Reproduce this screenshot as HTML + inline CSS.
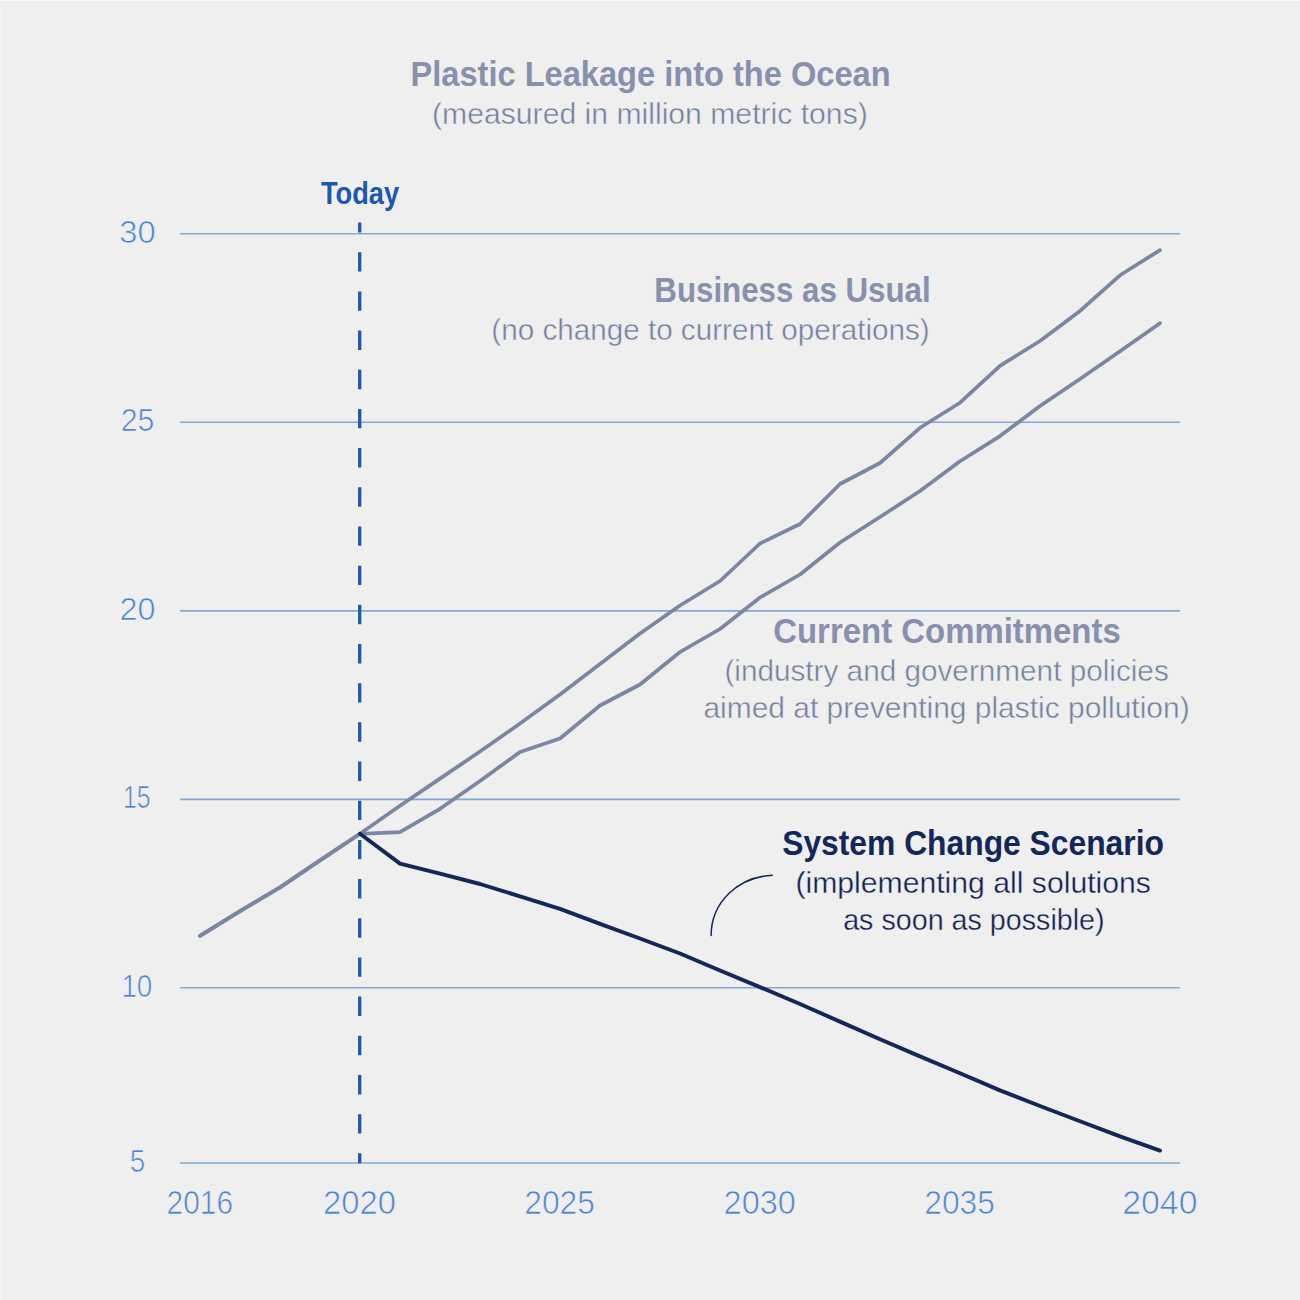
<!DOCTYPE html>
<html><head><meta charset="utf-8"><title>Plastic Leakage into the Ocean</title>
<style>
html,body{margin:0;padding:0;background:#efefef;}
body{width:1300px;height:1300px;overflow:hidden;}
svg{display:block;font-family:"Liberation Sans", sans-serif;}
</style></head>
<body>
<svg width="1300" height="1300" viewBox="0 0 1300 1300">
<rect width="1300" height="1300" fill="#efefef"/>
<rect width="1300" height="1" fill="#fafafa"/>
<rect width="1" height="1300" fill="#f3f3f3"/>
<line x1="180" y1="233.8" x2="1180" y2="233.8" stroke="#80a8d9" stroke-width="1.6"/>
<line x1="180" y1="422.3" x2="1180" y2="422.3" stroke="#80a8d9" stroke-width="1.6"/>
<line x1="180" y1="610.9" x2="1180" y2="610.9" stroke="#80a8d9" stroke-width="1.6"/>
<line x1="180" y1="799.35" x2="1180" y2="799.35" stroke="#80a8d9" stroke-width="1.6"/>
<line x1="180" y1="987.8" x2="1180" y2="987.8" stroke="#80a8d9" stroke-width="1.6"/>
<line x1="180" y1="1163.0" x2="1180" y2="1163.0" stroke="#80a8d9" stroke-width="1.6"/>
<line x1="359.7" y1="222.5" x2="359.7" y2="1163.2" stroke="#1b59ae" stroke-width="3.3" stroke-dasharray="19.4 19.78" stroke-dashoffset="9.48"/>
<polyline points="200,935.8 240,911.2 280,887.4 320,860.4 360,833.8 400,805.7 440,778.6 480,751.5 520,723.5 560,694.5 600,664.0 640,633.5 680,605.5 720,581.0 760,543.5 800,524.0 840,484.0 880,463.0 920,427.8 960,402.7 1000,365.9 1040,341.0 1080,310.9 1120,275.3 1160,250.1" fill="none" stroke="#7a86a4" stroke-width="3.7" stroke-linejoin="round" stroke-linecap="round"/>
<polyline points="200,935.8 240,911.2 280,887.4 320,860.4 360,833.8 400,832.1 440,808.8 480,781.1 520,752.0 560,738.5 600,705.5 640,684.5 680,652.0 720,629.0 760,597.5 800,574.5 840,542.5 880,517.0 920,491.0 960,461.2 1000,436.1 1040,406.0 1080,379.0 1120,351.2 1160,323.2" fill="none" stroke="#7a86a4" stroke-width="3.7" stroke-linejoin="round" stroke-linecap="round"/>
<polyline points="360,833.8 400,863.6 440,873.7 480,884.0 520,896.3 560,908.9 600,923.8 640,938.5 680,953.5 720,970.5 760,987.1 800,1004.0 840,1021.6 880,1039.2 920,1056.4 960,1073.3 1000,1090.4 1040,1106.0 1080,1121.3 1120,1136.3 1160,1150.6" fill="none" stroke="#13275a" stroke-width="3.9" stroke-linejoin="round" stroke-linecap="round"/>
<path d="M772.2,875.3 C738,877 711.2,902 711.1,935.6" fill="none" stroke="#13275a" stroke-width="1.5" stroke-linecap="round"/>
<text x="410.5" y="85.8" font-size="35.2" fill="#8791ad" font-weight="bold" text-anchor="start" textLength="480.1" lengthAdjust="spacingAndGlyphs">Plastic Leakage into the Ocean</text>
<text x="432.06" y="123.7" font-size="30.4" fill="#7380a0" font-weight="normal" text-anchor="start" textLength="435.72" lengthAdjust="spacingAndGlyphs" stroke="#efefef" stroke-width="0.45">(measured in million metric tons)</text>
<text x="320.96" y="204" font-size="31" fill="#1b59ae" font-weight="bold" text-anchor="start" textLength="78.14" lengthAdjust="spacingAndGlyphs">Today</text>
<text x="654.34" y="301.9" font-size="35.2" fill="#8791ad" font-weight="bold" text-anchor="start" textLength="276.24" lengthAdjust="spacingAndGlyphs">Business as Usual</text>
<text x="491.34" y="339.9" font-size="30.4" fill="#7380a0" font-weight="normal" text-anchor="start" textLength="438.36" lengthAdjust="spacingAndGlyphs" stroke="#efefef" stroke-width="0.45">(no change to current operations)</text>
<text x="773.24" y="643.2" font-size="35.2" fill="#8791ad" font-weight="bold" text-anchor="start" textLength="347.5" lengthAdjust="spacingAndGlyphs">Current Commitments</text>
<text x="724.42" y="680.8" font-size="30.4" fill="#7380a0" font-weight="normal" text-anchor="start" textLength="444.34" lengthAdjust="spacingAndGlyphs" stroke="#efefef" stroke-width="0.45">(industry and government policies</text>
<text x="703.38" y="718.3" font-size="30.4" fill="#7380a0" font-weight="normal" text-anchor="start" textLength="486.24" lengthAdjust="spacingAndGlyphs" stroke="#efefef" stroke-width="0.45">aimed at preventing plastic pollution)</text>
<text x="782.18" y="855.2" font-size="35.2" fill="#13275a" font-weight="bold" text-anchor="start" textLength="381.78" lengthAdjust="spacingAndGlyphs">System Change Scenario</text>
<text x="795.42" y="892.9" font-size="30.4" fill="#0f2152" font-weight="normal" text-anchor="start" textLength="355.5" lengthAdjust="spacingAndGlyphs" stroke="#efefef" stroke-width="0.35">(implementing all solutions</text>
<text x="843.16" y="930.2" font-size="30.4" fill="#0f2152" font-weight="normal" text-anchor="start" textLength="261.48" lengthAdjust="spacingAndGlyphs" stroke="#efefef" stroke-width="0.35">as soon as possible)</text>
<text x="119.28" y="242.5" font-size="32.2" fill="#4a84cf" font-weight="normal" text-anchor="start" textLength="36.42" lengthAdjust="spacingAndGlyphs" stroke="#efefef" stroke-width="0.7">30</text>
<text x="120.72" y="430.8" font-size="32.2" fill="#4a84cf" font-weight="normal" text-anchor="start" textLength="33.76" lengthAdjust="spacingAndGlyphs" stroke="#efefef" stroke-width="0.7">25</text>
<text x="119.5" y="619.9" font-size="32.2" fill="#4a84cf" font-weight="normal" text-anchor="start" textLength="35.98" lengthAdjust="spacingAndGlyphs" stroke="#efefef" stroke-width="0.7">20</text>
<text x="123.06" y="808.3" font-size="32.2" fill="#4a84cf" font-weight="normal" text-anchor="start" textLength="27.62" lengthAdjust="spacingAndGlyphs" stroke="#efefef" stroke-width="0.7">15</text>
<text x="121.38" y="996.5" font-size="32.2" fill="#4a84cf" font-weight="normal" text-anchor="start" textLength="30.98" lengthAdjust="spacingAndGlyphs" stroke="#efefef" stroke-width="0.7">10</text>
<text x="129.74" y="1172.1" font-size="32.2" fill="#4a84cf" font-weight="normal" text-anchor="start" textLength="15.5" lengthAdjust="spacingAndGlyphs" stroke="#efefef" stroke-width="0.7">5</text>
<text x="166.62" y="1214.0" font-size="32.8" fill="#4a84cf" font-weight="normal" text-anchor="start" textLength="66.42" lengthAdjust="spacingAndGlyphs" stroke="#efefef" stroke-width="0.7">2016</text>
<text x="323.06" y="1214.0" font-size="32.8" fill="#4a84cf" font-weight="normal" text-anchor="start" textLength="72.86" lengthAdjust="spacingAndGlyphs" stroke="#efefef" stroke-width="0.7">2020</text>
<text x="524.28" y="1214.0" font-size="32.8" fill="#4a84cf" font-weight="normal" text-anchor="start" textLength="70.64" lengthAdjust="spacingAndGlyphs" stroke="#efefef" stroke-width="0.7">2025</text>
<text x="723.62" y="1214.0" font-size="32.8" fill="#4a84cf" font-weight="normal" text-anchor="start" textLength="72.2" lengthAdjust="spacingAndGlyphs" stroke="#efefef" stroke-width="0.7">2030</text>
<text x="924.28" y="1214.0" font-size="32.8" fill="#4a84cf" font-weight="normal" text-anchor="start" textLength="70.64" lengthAdjust="spacingAndGlyphs" stroke="#efefef" stroke-width="0.7">2035</text>
<text x="1122.28" y="1214.0" font-size="32.8" fill="#4a84cf" font-weight="normal" text-anchor="start" textLength="75.2" lengthAdjust="spacingAndGlyphs" stroke="#efefef" stroke-width="0.7">2040</text>
</svg>
</body></html>
